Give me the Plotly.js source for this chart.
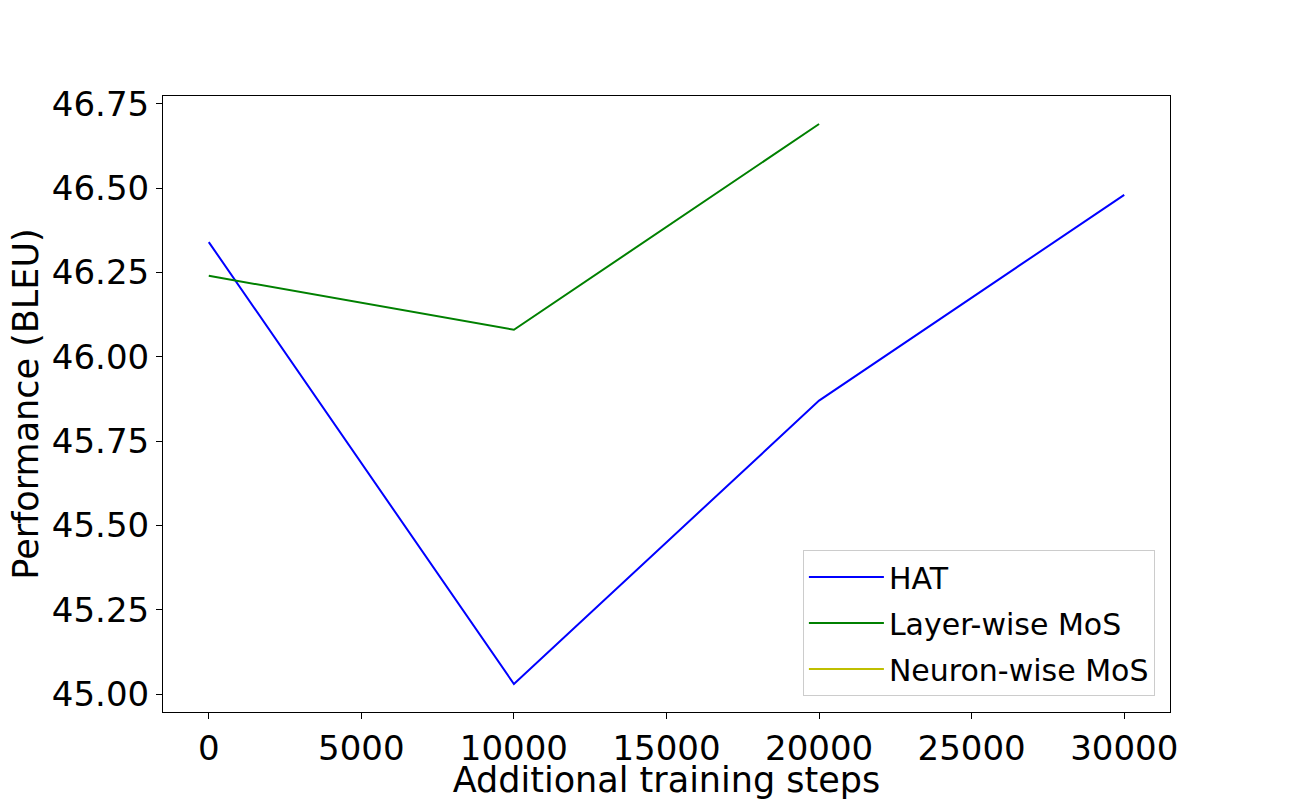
<!DOCTYPE html>
<html>
<head>
<meta charset="utf-8">
<script src="https://cdn.plot.ly/plotly-3.0.1.min.js"></script>
<style>html,body{margin:0;padding:0;background:#fff;}</style>
</head>
<body>
<div id="chart" style="width:1300px;height:800px;"></div>
<script>
const steps = [0, 10000, 20000, 30000];
const hat = [46.34, 45.03, 45.87, 46.48];
const layerSteps = [0, 10000, 20000];
const layerWise = [46.24, 46.08, 46.69];
const neuronSteps = [null];
const neuronWise = [null];

const traces = [
  {x: steps, y: hat, mode: 'lines', name: 'HAT', legendgroup: 'a', line: {color: '#0000ff', width: 2}},
  {x: layerSteps, y: layerWise, mode: 'lines', name: 'Layer-wise MoS', legendgroup: 'b', line: {color: '#008000', width: 2}},
  {x: neuronSteps, y: neuronWise, mode: 'lines', name: 'Neuron-wise MoS', legendgroup: 'c', line: {color: '#bfbf00', width: 2}}
];

const axisCommon = {
  showgrid: false, zeroline: false, showline: true, mirror: true,
  linecolor: '#000', linewidth: 1, ticks: 'outside', ticklen: 6, tickwidth: 1, tickcolor: '#000',
  tickfont: {family: 'DejaVu Sans', size: 34, color: '#000'}
};

const layout = {
  width: 1300, height: 800,
  margin: {l: 163, r: 130, t: 96, b: 88},
  paper_bgcolor: '#fff', plot_bgcolor: '#fff',
  font: {family: 'DejaVu Sans', color: '#000'},
  showlegend: true,
  xaxis: Object.assign({}, axisCommon, {
    range: [-1500, 31500], tickvals: [0, 5000, 10000, 15000, 20000, 25000, 30000],
    ticktext: ['0', '5000', '10000', '15000', '20000', '25000', '30000'],
    title: {text: 'Additional training steps', font: {family: 'DejaVu Sans', size: 35, color: '#000'}, standoff: 0}
  }),
  yaxis: Object.assign({}, axisCommon, {
    range: [44.947, 46.773], tickvals: [45.0, 45.25, 45.5, 45.75, 46.0, 46.25, 46.5, 46.75],
    ticktext: ['45.00', '45.25', '45.50', '45.75', '46.00', '46.25', '46.50', '46.75'],
    title: {text: 'Performance (BLEU)', font: {family: 'DejaVu Sans', size: 35, color: '#000'}, standoff: 2}
  }),
  legend: {
    x: 0.985, y: 0.026, xanchor: 'right', yanchor: 'bottom',
    bgcolor: 'rgba(255,255,255,0.8)', bordercolor: '#cccccc', borderwidth: 1,
    font: {family: 'DejaVu Sans', size: 30, color: '#000'},
    itemwidth: 75, tracegroupgap: 4
  }
};

Plotly.newPlot('chart', traces, layout, {displayModeBar: false, staticPlot: true});
</script>
</body>
</html>
